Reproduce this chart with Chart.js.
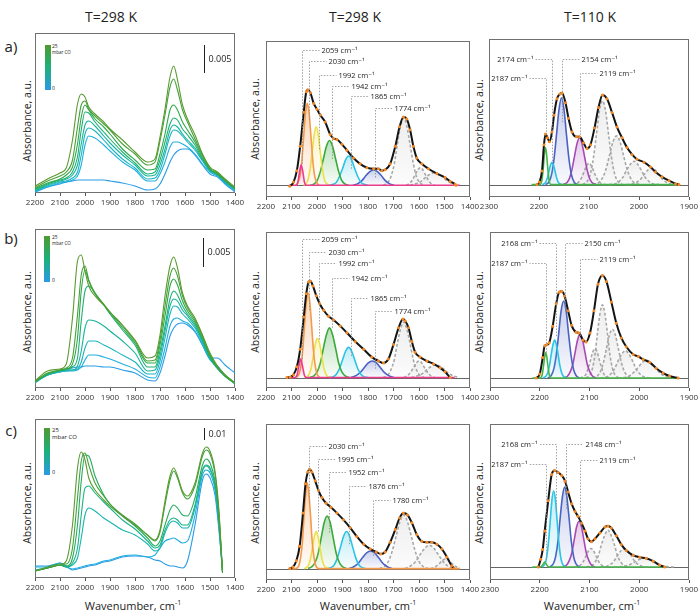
<!DOCTYPE html>
<html>
<head>
<meta charset="utf-8">
<title>CO adsorption IR spectra</title>
<script src="https://cdn.jsdelivr.net/npm/chart.js@4.4.1/dist/chart.umd.min.js"></script>
<style>
  body { margin: 0; width: 700px; height: 615px; position: relative; overflow: hidden; background: #fff;
         font-family: "Open Sans", "DejaVu Sans", sans-serif; color: #222; }
  canvas { position: absolute; }
  .txt { position: absolute; white-space: nowrap; line-height: 1; }
  .mid { transform: translate(-50%, -50%); }
  .rot { transform: translate(-50%, -50%) rotate(-90deg); }
  .cbar { position: absolute; width: 6px; background: linear-gradient(#4f9a30, #1cb07a 50%, #2a9ae6); }
</style>
</head>
<body>
<div class="txt mid" style="left:111px;top:17px;font-size:14px">T=298 K</div>
<div class="txt mid" style="left:355px;top:17px;font-size:14px">T=298 K</div>
<div class="txt mid" style="left:590px;top:17px;font-size:14px">T=110 K</div>

<div class="txt mid" style="left:11px;top:46px;font-size:15px">a)</div>
<div class="txt mid" style="left:11px;top:238px;font-size:15px">b)</div>
<div class="txt mid" style="left:11px;top:430px;font-size:15px">c)</div>

<div class="txt rot" style="left:27px;top:121px;font-size:10.5px">Absorbance, a.u.</div>
<div class="txt rot" style="left:255px;top:119px;font-size:10.5px">Absorbance, a.u.</div>
<div class="txt rot" style="left:479px;top:120px;font-size:10.5px">Absorbance, a.u.</div>
<div class="txt rot" style="left:27px;top:312px;font-size:10.5px">Absorbance, a.u.</div>
<div class="txt rot" style="left:255px;top:312px;font-size:10.5px">Absorbance, a.u.</div>
<div class="txt rot" style="left:479px;top:312px;font-size:10.5px">Absorbance, a.u.</div>
<div class="txt rot" style="left:27px;top:503px;font-size:10.5px">Absorbance, a.u.</div>
<div class="txt rot" style="left:255px;top:503px;font-size:10.5px">Absorbance, a.u.</div>
<div class="txt rot" style="left:479px;top:503px;font-size:10.5px">Absorbance, a.u.</div>

<div class="txt mid" style="left:133px;top:605px;font-size:11px">Wavenumber, cm<sup style="font-size:7px">-1</sup></div>
<div class="txt mid" style="left:368px;top:605px;font-size:11px">Wavenumber, cm<sup style="font-size:7px">-1</sup></div>
<div class="txt mid" style="left:592px;top:605px;font-size:11px">Wavenumber, cm<sup style="font-size:7px">-1</sup></div>

<div class="cbar" style="left:45px;top:45px;height:45px"></div>
<div class="txt" style="left:52px;top:44px;font-size:5px">25</div>
<div class="txt" style="left:52px;top:50px;font-size:4.5px">mbar CO</div>
<div class="txt" style="left:52px;top:86px;font-size:5px">0</div>
<div class="cbar" style="left:44px;top:236px;height:46px"></div>
<div class="txt" style="left:52px;top:235px;font-size:5px">25</div>
<div class="txt" style="left:52px;top:241px;font-size:4.5px">mbar CO</div>
<div class="txt" style="left:52px;top:278px;font-size:5px">0</div>
<div class="cbar" style="left:44px;top:428px;height:47px"></div>
<div class="txt" style="left:52px;top:427px;font-size:6px">25</div>
<div class="txt" style="left:52px;top:434px;font-size:6px">mbar CO</div>
<div class="txt" style="left:52px;top:470px;font-size:5.5px">0</div>

<script>
// ---- tick labels ----
const ticksWide = [2200, 2100, 2000, 1900, 1800, 1700, 1600, 1500, 1400];
const ticksNarrow = [2300, 2200, 2100, 2000, 1900];

// ---- left column: CO dosing series, heights (25 mbar -> 0) ----
const wnAB = [2200, 2150, 2100, 2075, 2050, 2030, 2015, 2000, 1985, 1960, 1925, 1900, 1850, 1800, 1750,
              1720, 1700, 1680, 1660, 1645, 1630, 1610, 1590, 1560, 1530, 1500, 1470, 1440, 1400];
const aLeft = [
  [6.7, 14, 20, 25, 53, 89, 99, 96, 86, 79, 71, 64, 53, 41, 31, 34, 56, 84, 116, 127, 113, 88, 74, 58, 39, 26, 21, 14, 6],
  [5.3, 12, 17, 21, 33, 66, 88, 92, 84, 77, 69, 63, 49, 39, 28, 31, 52, 78, 106, 114, 103, 83, 71, 54, 38, 25, 20, 13, 5],
  [4.3, 10, 14, 18, 26, 49, 76, 88, 83, 74, 66, 59, 44, 33, 23, 24, 39, 59, 83, 88, 83, 71, 63, 51, 36, 24, 19, 13, 4],
  [3.3, 9, 13, 15, 21, 36, 63, 81, 80, 71, 61, 54, 41, 30, 19, 21, 33, 51, 69, 75, 73, 64, 58, 48, 34, 23, 19, 12, 4],
  [2.7, 8, 12, 14, 18, 28, 49, 68, 72, 67, 57, 50, 38, 28, 17, 18, 28, 44, 63, 68, 66, 59, 53, 45, 33, 23, 18, 12, 3],
  [2, 7, 11, 12, 15, 21, 38, 59, 65, 62, 53, 46, 34, 25, 14, 15, 23, 39, 57, 63, 62, 57, 51, 43, 32, 22, 18, 11, 3],
  [1.3, 6, 10, 11, 13, 17, 28, 48, 57, 55, 48, 42, 31, 23, 12, 12, 19, 31, 46, 51, 51, 49, 46, 39, 29, 21, 17, 10, 2],
  [0.7, 6, 9, 11, 12, 13, 13, 13, 13, 13, 13, 12, 10, 7, 3, 4, 9, 19, 31, 38, 42, 44, 44, 38, 28, 19, 16, 9, 1]
];
const bLeft = [
  [7, 17, 19, 24, 70, 127, 133, 117, 102, 92, 83, 76, 63, 48, 30, 32, 53, 92, 122, 131, 120, 95, 82, 70, 53, 35, 22, 13, 5],
  [7, 15, 18, 20, 30, 73, 113, 122, 108, 95, 84, 76, 62, 47, 27, 28, 48, 82, 112, 120, 112, 92, 80, 68, 52, 33, 21, 13, 5],
  [6, 14, 18, 19, 24, 50, 97, 118, 107, 94, 83, 75, 60, 45, 25, 25, 43, 72, 102, 109, 103, 87, 77, 66, 50, 32, 20, 12, 5],
  [6, 14, 17, 19, 21, 30, 67, 97, 102, 95, 83, 74, 58, 43, 21, 21, 37, 62, 89, 97, 93, 82, 74, 64, 48, 31, 20, 12, 4],
  [6, 13, 17, 18, 18, 22, 37, 60, 68, 67, 62, 57, 47, 35, 17, 18, 32, 57, 82, 89, 87, 78, 72, 62, 47, 30, 19, 12, 4],
  [6, 13, 16, 17, 18, 19, 26, 40, 47, 47, 43, 40, 33, 26, 14, 14, 27, 50, 74, 82, 81, 74, 69, 60, 45, 29, 20, 12, 5],
  [5, 13, 16, 17, 17, 18, 21, 28, 33, 33, 31, 29, 24, 19, 11, 10, 21, 40, 62, 69, 70, 67, 65, 57, 43, 28, 22, 13, 5],
  [6, 13, 17, 18, 20, 21, 21, 22, 22, 22, 21, 21, 18, 15, 8, 7, 15, 32, 52, 60, 64, 65, 63, 56, 43, 30, 30, 23, 15]
];
const wnC = [2200, 2150, 2100, 2075, 2050, 2030, 2015, 2000, 1985, 1960, 1925, 1900, 1850, 1800, 1750,
             1720, 1700, 1680, 1660, 1645, 1630, 1610, 1590, 1560, 1530, 1515, 1500, 1480, 1465, 1450];
const cLeft = [
  [7, 10, 13, 17, 53, 110, 126, 118, 100, 88, 78, 72, 62, 53, 43, 38, 48, 77, 102, 110, 102, 87, 82, 95, 125, 131, 127, 107, 70, 7],
  [7, 11, 14, 14, 30, 80, 117, 125, 113, 95, 82, 74, 63, 54, 43, 37, 46, 73, 98, 107, 100, 85, 79, 92, 122, 128, 124, 104, 67, 5],
  [7, 10, 13, 12, 20, 53, 97, 123, 122, 102, 83, 74, 62, 52, 40, 32, 37, 53, 68, 73, 70, 63, 62, 80, 113, 119, 115, 97, 63, 7],
  [7, 10, 13, 11, 15, 30, 63, 90, 92, 85, 76, 70, 58, 49, 37, 30, 33, 48, 58, 60, 58, 53, 53, 73, 108, 113, 110, 93, 60, 7],
  [8, 10, 13, 11, 13, 20, 40, 63, 70, 67, 60, 56, 48, 43, 34, 27, 30, 45, 55, 57, 55, 50, 50, 70, 107, 112, 108, 92, 57, 6],
  [11, 11, 15, 11, 9, 10, 11, 12, 13, 14, 17, 18, 22, 23, 21, 23, 30, 37, 39, 40, 38, 35, 37, 63, 103, 108, 105, 88, 53, 6],
  [12, 12, 15, 12, 8, 9, 10, 11, 12, 13, 16, 17, 21, 22, 21, 18, 17, 14, 12, 12, 11, 10, 17, 53, 98, 104, 100, 83, 50, 8]
];
// scale bars: [wavenumber, from, to, label]
const aBar = [1524, 120, 148, '0.005'];
const bBar = [1528, 121, 150, '0.005'];
const cBar = [1524, 138, 150, '0.01'];

// ---- middle column: deconvolution at 298 K, [wavenumber, absorbance] ----
const aMidFit = [[2107,-1],[2092,3.3],[2079,15],[2066,40],[2052,75],[2042,96],[2036,98],[2026,95],[2013,84],[2000,78],
  [1987,72],[1968,65],[1948,52],[1935,48],[1922,47],[1902,42],[1883,36],[1857,28],[1831,22],[1804,18],[1778,17],
  [1759,17],[1746,15],[1733,16],[1713,22],[1693,40],[1676,60],[1661,70],[1648,68],[1635,57],[1622,40],[1609,28],
  [1589,22],[1563,17],[1530,12],[1498,8],[1478,4],[1458,1],[1455,0]];
const aMid2059 = [[2110,0],[2083,0],[2075,3],[2069,13],[2062,21],[2055,13],[2049,3],[2041,0],[1440,0]];
const aMid2030 = [[2083,0],[2073,4],[2066,11],[2059,27],[2052,51],[2045,74],[2038,84],[2031,74],[2024,51],[2017,27],[2010,11],[2003,4],[1993,0]];
const aMid1992 = [[2053,0],[2043,2],[2035,6],[2027,17],[2019,34],[2011,52],[2003,60],[1995,52],[1987,34],[1979,17],[1971,6],[1963,2],[1953,0]];
const aMid1942 = [[2026,0],[2011,1.5],[1999,5],[1987,14],[1975,27],[1963,40],[1951,46],[1939,40],[1927,27],[1915,14],[1903,5],[1891,1.5],[1876,0]];
const aMid1865 = [[1951,0],[1936,1],[1924,3],[1912,9],[1900,17],[1888,26],[1876,30],[1864,26],[1852,17],[1840,9],[1828,3],[1816,1],[1801,0]];
const aMid1774 = [[1858,0],[1838,2],[1823,5],[1808,10],[1793,14],[1778,16],[1763,14],[1748,10],[1733,5],[1718,2],[1698,0]];
const aMidG1 = [[1740,0],[1722,3],[1710,9],[1697,22],[1685,42],[1672,61],[1660,69],[1648,61],[1635,42],[1622,22],[1610,9],[1598,3],[1580,0]];
const aMidG2 = [[1650,0],[1635,2.4],[1625,6],[1615,11],[1605,16],[1595,18],[1585,16],[1575,11],[1565,6],[1555,2.4],[1540,0]];
const aMidG3 = [[1635,0],[1610,1.8],[1592,4],[1575,8],[1557,11.5],[1540,13],[1522,11.5],[1505,8],[1487,4],[1470,1.8],[1445,0]];
// peak marks: [wavenumber, label height, line foot]
const aMidPeaks = [[2059,139,22],[2030,128,67],[1992,113,37],[1942,102,27],[1865,92,17],[1774,79,8]];

const bMidFit = [[2118,0],[2105,0.7],[2092,3],[2079,11],[2066,29],[2052,62],[2042,86],[2033,98],[2026,99],[2016,94],
  [2003,84],[1990,76],[1974,69],[1955,63],[1935,59],[1909,53],[1883,46],[1850,37],[1817,29],[1785,21],[1759,17],
  [1739,15],[1720,19],[1700,34],[1680,51],[1663,60],[1654,58],[1641,51],[1628,37],[1615,26],[1596,21],[1569,17],
  [1543,14],[1517,10],[1498,6],[1478,0]];
const bMid2059 = [[2120,0],[2087,0],[2078,3],[2071,12],[2064,19],[2057,12],[2050,3],[2042,0],[1460,0]];
const bMid2030 = [[2080,0],[2070,4],[2063,12],[2056,28],[2049,53],[2042,77],[2035,87],[2028,77],[2021,53],[2014,28],[2007,12],[2000,4],[1990,0]];
const bMid1992 = [[2048,0],[2038,1],[2030,4],[2022,11],[2014,23],[2006,35],[1998,40],[1990,35],[1982,23],[1974,11],[1966,4],[1958,1],[1948,0]];
const bMid1942 = [[2028,0],[2011,2],[1999,6],[1987,15],[1975,30],[1963,44],[1951,51],[1939,44],[1927,30],[1915,15],[1903,6],[1891,2],[1874,0]];
const bMid1865 = [[1953,0],[1936,1],[1924,3.5],[1912,9],[1900,18],[1888,27],[1876,31],[1864,27],[1852,18],[1840,9],[1828,3.5],[1816,1],[1799,0]];
const bMid1774 = [[1867,0],[1847,2],[1831,5],[1815,10],[1799,15],[1783,17],[1767,15],[1751,10],[1735,5],[1719,2],[1699,0]];
const bMidG1 = [[1740,0],[1722,2.5],[1710,8],[1697,18],[1685,35],[1672,50],[1660,57],[1648,50],[1635,35],[1622,18],[1610,8],[1598,2.5],[1580,0]];
const bMidG2 = [[1660,0],[1644,2.3],[1633,5.5],[1622,10],[1611,15],[1600,17],[1589,15],[1578,10],[1567,5.5],[1556,2.3],[1540,0]];
const bMidG3 = [[1630,0],[1605,1.8],[1587,4],[1570,8],[1552,11.5],[1535,13],[1517,11.5],[1500,8],[1482,4],[1465,1.8],[1445,0]];
const bMidPeaks = [[2059,142,19],[2030,129,69],[1992,117,39],[1942,102,51],[1865,82,22],[1774,68,9]];

const cMidFit = [[2107,0],[2094,1.7],[2081,8],[2068,23],[2055,57],[2045,87],[2036,99],[2029,102],[2020,99],[2007,90],
  [1994,80],[1981,73],[1964,67],[1945,63],[1922,57],[1896,50],[1870,42],[1844,33],[1817,25],[1791,20],[1768,17],
  [1750,15],[1733,17],[1713,27],[1693,40],[1676,52],[1661,57],[1645,55],[1628,47],[1609,35],[1589,28],[1569,27],
  [1550,27],[1530,25],[1510,20],[1491,12],[1472,3],[1462,0]];
const cMid2030 = [[2110,0],[2083,0],[2070,4],[2064,12],[2057,28],[2051,53],[2044,77],[2038,88],[2032,77],[2025,53],[2019,28],[2012,12],[2006,4],[1993,0],[1440,0]];
const cMid1995 = [[2051,0],[2038,1.7],[2031,5],[2024,12],[2017,23],[2010,33],[2003,38],[1996,33],[1989,23],[1982,12],[1975,5],[1968,1.7],[1955,0]];
const cMid1952 = [[2035,0],[2020,2],[2008,6],[1996,15],[1984,31],[1972,47],[1960,54],[1948,47],[1936,31],[1924,15],[1912,6],[1900,2],[1885,0]];
const cMid1876 = [[1959,0],[1944,1.3],[1932,4],[1920,11],[1908,22],[1896,33],[1884,38],[1872,33],[1860,22],[1848,11],[1836,4],[1824,1.3],[1809,0]];
const cMid1780 = [[1874,0],[1854,2.2],[1838,5.5],[1822,11],[1806,16],[1790,18],[1774,16],[1758,11],[1742,5.5],[1726,2.2],[1706,0]];
const cMidG1 = [[1755,0],[1735,2.4],[1720,7.4],[1705,18],[1690,33],[1675,48],[1660,55],[1645,48],[1630,33],[1615,18],[1600,7.4],[1585,2.4],[1565,0]];
const cMidG2 = [[1655,0],[1630,3.2],[1612,7.7],[1595,14.6],[1577,21],[1560,24],[1542,21],[1525,14.6],[1507,7.7],[1490,3.2],[1465,0]];
const cMidG3 = [[1555,0],[1539,1.4],[1528,3.2],[1517,6],[1506,8.8],[1495,10],[1484,8.8],[1473,6],[1462,3.2],[1451,1.4],[1440,0]];
const cMidPeaks = [[2030,126,67],[1995,112,38],[1952,99,37],[1876,85,25],[1780,70,13]];

// ---- right column: deconvolution at 110 K ----
const aRightFit = [[2204,0],[2199,2.7],[2194,14],[2190,41],[2187,52],[2183,48],[2179,44],[2174,54],[2170,71],[2164,88],
  [2158,93],[2154,94],[2147,84],[2141,68],[2134,54],[2125,49],[2119,49],[2111,43],[2104,37],[2097,41],[2089,58],
  [2081,79],[2073,92],[2064,88],[2054,74],[2044,59],[2034,48],[2024,38],[2014,31],[2004,26],[1990,23],[1977,18],
  [1967,13],[1954,8],[1940,4],[1927,1],[1920,0]];
const aRight2187 = [[2215,0],[2198,0],[2194,5],[2191,20],[2189,32],[2187,38],[2185,32],[2183,20],[2180,5],[2176,0],[1920,0]];
const aRight2174 = [[2194,0],[2189,1],[2186,3.1],[2183,7.4],[2180,14],[2177,20],[2174,23],[2171,20],[2168,14],[2165,7.4],[2162,3.1],[2159,1],[2154,0]];
const aRight2154 = [[2187,0],[2180,2.8],[2175,10],[2170,26],[2165,51],[2160,77],[2155,89],[2150,77],[2145,51],[2140,26],[2135,10],[2130,2.8],[2123,0]];
const aRight2119 = [[2152,0],[2144,2.1],[2139,6.5],[2134,15.6],[2129,29],[2124,42],[2119,48],[2114,42],[2109,29],[2104,15.6],[2099,6.5],[2094,2.1],[2086,0]];
const aRightG1 = [[2133,0],[2125,1],[2120,3],[2115,7],[2110,13],[2105,19],[2100,22],[2095,19],[2090,13],[2085,7],[2080,3],[2075,1],[2067,0]];
const aRightG2 = [[2113,0],[2103,3.8],[2097,11.6],[2091,28],[2085,52],[2079,76],[2073,86],[2067,76],[2061,52],[2055,28],[2049,11.6],[2043,3.8],[2033,0]];
const aRightG3 = [[2092,0],[2080,2.2],[2073,6.8],[2066,16],[2059,30],[2052,44],[2045,50],[2038,44],[2031,30],[2024,16],[2017,6.8],[2010,2.2],[1998,0]];
const aRightG4 = [[2060,0],[2047,1],[2040,3.2],[2032,7.7],[2025,14.6],[2017,21],[2010,24],[2003,21],[1995,14.6],[1988,7.7],[1980,3.2],[1973,1],[1960,0]];
const aRightG5 = [[2025,0],[2012,0.8],[2005,2.3],[1997,5.4],[1990,10.3],[1982,15],[1975,17],[1968,15],[1960,10.3],[1953,5.4],[1945,2.3],[1938,0.8],[1925,0]];
// [wavenumber, label height, line foot, label side]
const aRightPeaks = [[2174,129,21,'l'],[2187,109,51,'l'],[2154,129,64,'r'],[2119,114,48,'r']];

const bRightFit = [[2207,0],[2200,4],[2194,21],[2190,33],[2186,34],[2181,36],[2174,53],[2167,76],[2161,88],[2156,89],
  [2150,84],[2143,69],[2136,54],[2127,47],[2121,46],[2113,39],[2107,37],[2099,46],[2091,69],[2083,96],[2074,105],
  [2066,99],[2056,78],[2046,56],[2036,41],[2026,32],[2012,24],[2002,22],[1992,19],[1979,16],[1966,10],[1952,5],
  [1939,2],[1922,0]];
const bRight2187 = [[2215,0],[2199,0],[2195,3.5],[2192,14],[2190,22],[2188,26],[2186,22],[2184,14],[2181,3.5],[2177,0],[1920,0]];
const bRight2168 = [[2194,0],[2187.5,1.7],[2184,5.3],[2180.5,12.6],[2177,24],[2173.5,34],[2170,39],[2166.5,34],[2163,24],[2159.5,12.6],[2156,5.3],[2152.5,1.7],[2146,0]];
const bRight2150 = [[2184,0],[2177,2.5],[2172,8.8],[2167,23],[2162,45],[2157,69],[2152,79],[2147,69],[2142,45],[2137,23],[2132,8.8],[2127,2.5],[2120,0]];
const bRight2119 = [[2151,0],[2144,2],[2139,6],[2134,13],[2129,26],[2124,39],[2119,45],[2114,39],[2109,26],[2104,13],[2099,6],[2094,2],[2087,0]];
const bRightG1 = [[2119,0],[2112,1.3],[2107,4],[2103,9.6],[2098,18],[2094,26],[2089,30],[2084,26],[2080,18],[2075,9.6],[2071,4],[2066,1.3],[2059,0]];
const bRightG2 = [[2107,0],[2099,3.3],[2094,10],[2089,24],[2084,46],[2079,66],[2074,75],[2069,66],[2064,46],[2059,24],[2054,10],[2049,3.3],[2041,0]];
const bRightG3 = [[2094,0],[2084,2.2],[2078,6.8],[2072,16],[2066,30],[2060,44],[2054,50],[2048,44],[2042,30],[2036,16],[2030,6.8],[2024,2.2],[2014,0]];
const bRightG4 = [[2078,0],[2065,1.2],[2058,3.8],[2050,9],[2043,17],[2035,24.6],[2028,28],[2021,24.6],[2013,17],[2006,9],[1998,3.8],[1991,1.2],[1978,0]];
const bRightG5 = [[2042,0],[2027,0.8],[2019,2.4],[2011,5.8],[2002,11],[1994,15.8],[1985,18],[1977,15.8],[1968,11],[1960,5.8],[1951,2.4],[1943,0.8],[1928,0]];
const bRightPeaks = [[2168,138,43,'l'],[2187,118,26,'l'],[2150,138,68,'r'],[2119,122,43,'r']];

const cRightFit = [[2203,0],[2198,8],[2194,18],[2190,37],[2183,68],[2176,95],[2170,99],[2163,97],[2156,94],[2149,88],
  [2143,77],[2136,65],[2129,57],[2123,52],[2116,45],[2109,37],[2103,29],[2096,26],[2089,29],[2079,35],[2069,41],
  [2063,42],[2056,40],[2046,32],[2036,23],[2026,17],[2012,12],[1999,10],[1986,9],[1972,6],[1959,2],[1949,0]];
const cRight2187 = [[2215,0],[2199,0],[2195,1.5],[2192,4],[2190,5],[2188,4],[2185,1.5],[2181,0],[1945,0]];
const cRight2168 = [[2196,0],[2189.5,3.4],[2186,10.5],[2182.5,25],[2179,47],[2175.5,69],[2172,78],[2168.5,69],[2165,47],[2161.5,25],[2158,10.5],[2154.5,3.4],[2148,0]];
const cRight2148 = [[2180,0],[2172.5,3.6],[2168,11],[2163.5,26],[2159,50],[2154.5,72],[2150,82],[2145.5,72],[2141,50],[2136.5,26],[2132,11],[2127.5,3.6],[2120,0]];
const cRight2119 = [[2153,0],[2146,2],[2141,6.3],[2136,13.6],[2131,27],[2126,41],[2121,47],[2116,41],[2111,27],[2106,13.6],[2101,6.3],[2096,2],[2089,0]];
const cRightG1 = [[2130,0],[2122,0.8],[2117,2.6],[2112,6],[2107,11.6],[2102,16.7],[2097,19],[2092,16.7],[2087,11.6],[2082,6],[2077,2.6],[2072,0.8],[2064,0]];
const cRightG2 = [[2106,0],[2095,1.7],[2089,5],[2082,12],[2076,23],[2069,33],[2063,38],[2057,33],[2050,23],[2044,12],[2037,5],[2031,1.7],[2020,0]];
const cRightG3 = [[2077,0],[2065,0.8],[2058,2.6],[2051,6],[2044,11.6],[2037,16.7],[2030,19],[2023,16.7],[2016,11.6],[2009,6],[2002,2.6],[1995,0.8],[1983,0]];
const cRightG4 = [[2050,0],[2035,0.4],[2026,1.2],[2017,2.9],[2008,5.5],[1999,7.9],[1990,9],[1981,7.9],[1972,5.5],[1963,2.9],[1954,1.2],[1945,0.4],[1930,0]];
const cRightPeaks = [[2168,126,58,'l'],[2187,106,7,'l'],[2148,126,60,'r'],[2119,110,42,'r']];

// ---- styles ----
const FONT = '"Open Sans", "DejaVu Sans", sans-serif';
const greens8 = ['#5a9a30', '#46a038', '#2ea84a', '#1cb074', '#18b49a', '#1ab4c0', '#20aee0', '#2a9ce8'];
const greens7 = ['#5a9a30', '#40a33a', '#24ac5c', '#19b286', '#18b4b0', '#1eaee0', '#2a9ae6'];
const STYLE = {
  pink:    { line: '#ec3a8e', rgb: '236,58,142', a: 0.3 },
  orange:  { line: '#f59a4c', rgb: '245,154,76', a: 0.4 },
  yellow:  { line: '#ece04c', rgb: '236,224,76', a: 0.3 },
  green:   { line: '#39a93a', rgb: '57,169,58', a: 0.35 },
  cyan:    { line: '#2cc3e4', rgb: '44,195,228', a: 0.3 },
  blue:    { line: '#4a62c2', rgb: '74,98,194', a: 0.3 },
  magenta: { line: '#a64bb3', rgb: '166,75,179', a: 0.3 },
  lime:    { line: '#46b549' },
  grey:    { line: '#a8a8a8', rgb: '150,150,150', a: 0.16, dash: [3, 2] }
};

const pts = arr => arr.map(([x, y]) => ({ x, y }));
const zip = (xs, ys) => xs.map((x, i) => ({ x, y: ys[i] }));

function gradientFill(rgb, alpha, arr) {
  const peak = Math.max(...arr.map(p => p[1]));
  return ctx => {
    const chart = ctx.chart;
    if (!chart.chartArea) return 'transparent';
    const ys = chart.scales.y;
    const g = chart.ctx.createLinearGradient(0, ys.getPixelForValue(peak), 0, ys.getPixelForValue(0));
    g.addColorStop(0, `rgba(${rgb},${alpha})`);
    g.addColorStop(1, `rgba(${rgb},0.03)`);
    return g;
  };
}

function comp(arr, key, order = 3) {
  const s = STYLE[key];
  return {
    data: pts(arr), borderColor: s.line, borderWidth: 1.6, borderDash: s.dash || [],
    fill: s.rgb ? 'origin' : false,
    backgroundColor: s.rgb ? gradientFill(s.rgb, s.a, arr) : 'transparent',
    pointRadius: 0, cubicInterpolationMode: 'monotone', order
  };
}

function fitSets(arr) {
  return [
    { data: pts(arr), showLine: false, pointRadius: 1.5, pointBackgroundColor: '#f58a25', pointBorderWidth: 0, order: 0 },
    { data: pts(arr), borderColor: '#141414', borderWidth: 2, pointRadius: 0, cubicInterpolationMode: 'monotone', fill: false, order: 1 }
  ];
}

function leftSets(xs, curves, colors) {
  return curves.map((ys, i) => ({
    data: zip(xs, ys), borderColor: colors[i], borderWidth: 1.1, pointRadius: 0,
    cubicInterpolationMode: 'monotone', fill: false, order: i
  }));
}

// frame, zero line, peak marks and scale bar
const makeDecor = extra => ({
  id: 'decor',
  beforeDatasetsDraw(chart) {
    const { ctx, chartArea: a, scales: { y } } = chart;
    ctx.save();
    ctx.strokeStyle = '#707070';
    ctx.lineWidth = 1;
    ctx.strokeRect(a.left + 0.5, a.top + 0.5, a.width - 1, a.height - 1);
    if (extra.zero) {
      const y0 = Math.round(y.getPixelForValue(0)) + 0.5;
      ctx.strokeStyle = '#666';
      ctx.beginPath(); ctx.moveTo(a.left, y0); ctx.lineTo(a.right, y0); ctx.stroke();
    }
    ctx.restore();
  },
  afterDatasetsDraw(chart) {
    const { ctx, scales: { x, y } } = chart;
    ctx.save();
    (extra.peaks || []).forEach(([wn, top, foot, side]) => {
      const px = Math.round(x.getPixelForValue(wn)) + 0.5;
      const yt = Math.round(y.getPixelForValue(top)) + 0.5;
      const dir = side === 'l' ? -1 : 1;
      ctx.setLineDash([1.5, 1.5]);
      ctx.strokeStyle = '#8c8c8c';
      ctx.lineWidth = 0.8;
      ctx.beginPath();
      ctx.moveTo(px, y.getPixelForValue(foot));
      ctx.lineTo(px, yt);
      ctx.lineTo(px + dir * 17, yt);
      ctx.stroke();
      ctx.setLineDash([]);
      ctx.fillStyle = '#222';
      ctx.font = `7.5px ${FONT}`;
      ctx.textBaseline = 'middle';
      ctx.textAlign = side === 'l' ? 'right' : 'left';
      ctx.fillText(`${wn} cm⁻¹`, px + dir * 19, yt);
    });
    if (extra.bar) {
      const [wn, y0, y1, label] = extra.bar;
      const px = Math.round(x.getPixelForValue(wn)) + 0.5;
      ctx.strokeStyle = '#222';
      ctx.lineWidth = 1;
      ctx.beginPath(); ctx.moveTo(px, y.getPixelForValue(y0)); ctx.lineTo(px, y.getPixelForValue(y1)); ctx.stroke();
      ctx.fillStyle = '#222';
      ctx.font = `9px ${FONT}`;
      ctx.textAlign = 'left';
      ctx.textBaseline = 'middle';
      ctx.fillText(label, px + 4, y.getPixelForValue((y0 + y1) / 2));
    }
    ctx.restore();
  }
});

function panel(box, xRange, xTicks, yRange, datasets, extra) {
  const [left, top, w, h] = box;
  const cv = document.createElement('canvas');
  cv.width = w + 40;
  cv.height = h + 20;
  cv.style.left = (left - 20) + 'px';
  cv.style.top = top + 'px';
  document.body.appendChild(cv);
  return new Chart(cv, {
    type: 'line',
    data: { datasets },
    options: {
      responsive: false, animation: false, events: [],
      layout: { padding: { left: 20, right: 20, top: 0, bottom: 0 } },
      plugins: { legend: { display: false }, tooltip: { enabled: false } },
      elements: { point: { radius: 0 } },
      scales: {
        x: {
          type: 'linear', reverse: true, min: xRange[1], max: xRange[0],
          afterBuildTicks: s => { s.ticks = xTicks.map(v => ({ value: v })); },
          afterFit: s => { s.height = 20; },
          border: { display: false },
          grid: { drawOnChartArea: false, drawTicks: true, tickLength: 3, color: '#555' },
          ticks: { autoSkip: false, maxRotation: 0, padding: 2, color: '#333',
                   font: { family: FONT, size: 8 }, callback: v => String(v) }
        },
        y: { display: false, min: yRange[0], max: yRange[1] }
      }
    },
    plugins: [makeDecor(extra)]
  });
}

const wide = [2200, 1400], narrow = [2300, 1900];

// left column
panel([35, 33, 200, 160], wide, ticksWide, [0, 160], leftSets(wnAB, aLeft, greens8), { bar: aBar });
panel([35, 229, 200, 159], wide, ticksWide, [0, 159], leftSets(wnAB, bLeft, greens8), { bar: bBar });
panel([35, 419, 200, 159], wide, ticksWide, [0, 159], leftSets(wnC, cLeft, greens7), { bar: cBar });

// middle column
panel([266, 37, 204, 160], wide, ticksWide, [-12, 148], [
  ...fitSets(aMidFit), comp(aMid2059, 'pink', 2), comp(aMid2030, 'orange'), comp(aMid1992, 'yellow'),
  comp(aMid1942, 'green'), comp(aMid1865, 'cyan'), comp(aMid1774, 'blue'),
  comp(aMidG1, 'grey', 4), comp(aMidG2, 'grey', 4), comp(aMidG3, 'grey', 4)
], { zero: true, peaks: aMidPeaks });
panel([266, 228, 204, 160], wide, ticksWide, [-10.7, 149.3], [
  ...fitSets(bMidFit), comp(bMid2059, 'pink', 2), comp(bMid2030, 'orange'), comp(bMid1992, 'yellow'),
  comp(bMid1942, 'green'), comp(bMid1865, 'cyan'), comp(bMid1774, 'blue'),
  comp(bMidG1, 'grey', 4), comp(bMidG2, 'grey', 4), comp(bMidG3, 'grey', 4)
], { zero: true, peaks: bMidPeaks });
panel([266, 420, 204, 160], wide, ticksWide, [-11.7, 148.3], [
  ...fitSets(cMidFit), comp(cMid2030, 'orange', 2), comp(cMid1995, 'yellow'),
  comp(cMid1952, 'green'), comp(cMid1876, 'cyan'), comp(cMid1780, 'blue'),
  comp(cMidG1, 'grey', 4), comp(cMidG2, 'grey', 4), comp(cMidG3, 'grey', 4)
], { zero: true, peaks: cMidPeaks });

// right column
panel([489, 35, 200, 162], narrow, ticksNarrow, [-12.7, 149.3], [
  ...fitSets(aRightFit), comp(aRight2187, 'lime', 2), comp(aRight2174, 'cyan'), comp(aRight2154, 'blue'),
  comp(aRight2119, 'magenta'), comp(aRightG1, 'grey', 4), comp(aRightG2, 'grey', 4), comp(aRightG3, 'grey', 4),
  comp(aRightG4, 'grey', 4), comp(aRightG5, 'grey', 4)
], { zero: true, peaks: aRightPeaks });
panel([490, 228, 199, 160], narrow, ticksNarrow, [-10.3, 149.7], [
  ...fitSets(bRightFit), comp(bRight2187, 'lime', 2), comp(bRight2168, 'cyan'), comp(bRight2150, 'blue'),
  comp(bRight2119, 'magenta'), comp(bRightG1, 'grey', 4), comp(bRightG2, 'grey', 4), comp(bRightG3, 'grey', 4),
  comp(bRightG4, 'grey', 4), comp(bRightG5, 'grey', 4)
], { zero: true, peaks: bRightPeaks });
panel([490, 420, 199, 160], narrow, ticksNarrow, [-13.3, 146.7], [
  ...fitSets(cRightFit), comp(cRight2187, 'lime', 2), comp(cRight2168, 'cyan'), comp(cRight2148, 'blue'),
  comp(cRight2119, 'magenta'), comp(cRightG1, 'grey', 4), comp(cRightG2, 'grey', 4), comp(cRightG3, 'grey', 4),
  comp(cRightG4, 'grey', 4)
], { zero: true, peaks: cRightPeaks });
</script>
</body>
</html>
